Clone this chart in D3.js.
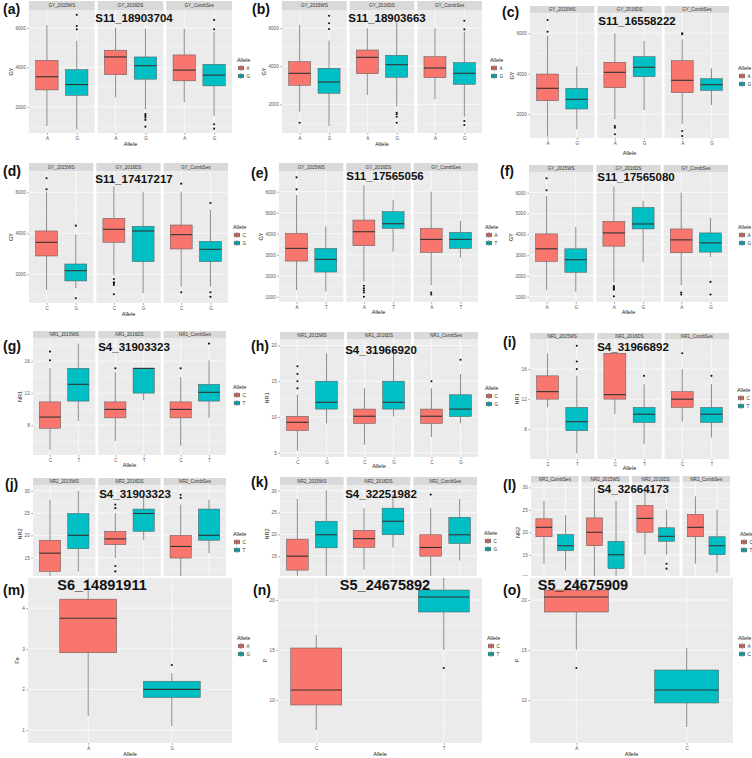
<!DOCTYPE html>
<html><head><meta charset="utf-8">
<script src="https://cdn.jsdelivr.net/npm/d3@7"></script>
<style>body{margin:0;background:#fff}svg{display:block}</style>
</head><body>
<script>
// ---------------- DATA ----------------
// stats per facet per allele: [lowerWhisker, Q1, median, Q3, upperWhisker]
const a_facets = ["GY_2015WS","GY_2016DS","GY_CombSes"];
const a_alleles = ["A","G"];
const a_stats = [
  [[1026,2855,3523,4359,6150],[856,2581,3128,3882,5350]],
  [[2477,3626,4530,4872,6015],[1880,3400,4085,4530,5965]],
  [[2221,3316,3863,4632,5965],[1538,3060,3607,4154,5812]]];
const a_out = [[[],[6667,6100,5930]],[[],[1625,1538,1450,1333,990]],[[],[6410,5930,1111,888]]];

const b_facets = ["GY_2015WS","GY_2016DS","GY_CombSes"];
const b_alleles = ["A","G"];
const b_stats = [
  [[1617,3000,3628,4236,6157],[869,2581,3173,3890,5335]],
  [[2492,3607,4464,4848,5982],[1880,3418,4079,4571,6300]],
  [[2267,3398,3906,4497,5982],[1356,3052,3628,4183,5806]]];
const b_out = [[[1042],[6644,6246,5948]],[[],[1565,1480,1356,1042]],[[],[6383,5930,1130,921]]];

const c_facets = ["GY_2015WS","GY_2016DS","GY_CombSes"];
const c_alleles = ["A","G"];
const c_stats = [
  [[870,2655,3270,3980,5880],[1236,2243,2724,3270,4343]],
  [[1732,3300,4064,4560,6000],[2194,3846,4313,4840,5618]],
  [[1500,3052,3668,4640,5700],[2442,3168,3450,3747,4263]]];
const c_out = [[[6660,6080],[]],[[1400,1315,987],[]],[[6000,5950,1152,900],[]]];

const d_facets = ["GY_2015WS","GY_2016DS","GY_CombSes"];
const d_alleles = ["C","G"];
const d_stats = [
  [[1234,2894,3561,4114,6030],[1317,1675,2179,2504,3950]],
  [[1950,3561,4195,4732,6300],[1088,2618,4114,4341,6030]],
  [[1400,3235,3935,4406,6030],[1400,2618,3219,3610,5154]]];
const d_out = [[[6683,6146],[4374,830]],[[1772,1610,1561,1480,1024],[]],[[6423,1122],[5480,1122,900]]];

const e_facets = ["GY_2015WS","GY_2016DS","GY_CombSes"];
const e_alleles = ["A","T"];
const e_stats = [
  [[1317,2698,3302,4016,5841],[1250,2175,2778,3302,4349]],
  [[1714,3429,4095,4651,6300],[3143,4254,4476,5048,5603]],
  [[1550,3111,3730,4254,6000],[2857,3302,3730,4063,4603]]];
const e_out = [[[6683,6111],[]],[[1524,1397,1300,1200,1000],[]],[[1200,1111],[]]];

const f_facets = ["GY_2015WS","GY_2016DS","GY_CombSes"];
const f_alleles = ["A","G"];
const f_stats = [
  [[1317,2698,3302,4016,5841],[1250,2175,2778,3302,4349]],
  [[1714,3429,4063,4619,6300],[2667,4254,4492,5286,5603]],
  [[1556,3111,3730,4254,6000],[2905,3143,3587,4063,4794]]];
const f_out = [[[6683,6111],[]],[[1520,1460,1400,1340,1020],[]],[[1200,1111],[1714,1111]]];

const g_facets = ["NR1_2015WS","NR1_2016DS","NR1_CombSes"];
const g_alleles = ["C","T"];
const g_stats = [
  [[4.9,7.6,9.0,10.9,15.1],[8.5,11.0,13.1,15.1,18.2]],
  [[6.0,8.9,9.96,10.9,14.6],[11.1,12.0,15.1,15.1,15.1]],
  [[5.4,8.9,9.96,10.9,14.0],[8.9,11.0,12.1,13.1,16.1]]];
const g_out = [[[17.2,16.1],[]],[[15.1],[]],[[15.1],[18.2]]];

const h_facets = ["NR1_2015WS","NR1_2016DS","NR1_CombSes"];
const h_alleles = ["C","G"];
const h_stats = [
  [[5.3,8.1,9.25,10.1,13.1],[9.1,11.1,12.05,15.0,18.9]],
  [[6.1,9.1,10.1,11.1,14.0],[10.05,11.1,12.05,15.0,19.6]],
  [[7.2,9.1,10.1,11.1,14.0],[9.1,10.05,11.1,13.1,16.0]]];
const h_out = [[[17.1,16.0,15.0,14.0],[]],[[],[]],[[15.0],[18.0]]];

const i_facets = ["NR1_2015WS","NR1_2016DS","NR1_CombSes"];
const i_alleles = ["C","T"];
const i_stats = [
  [[10.9,12.0,13.0,15.1,18.1],[4.8,7.8,9.0,10.9,15.1]],
  [[10.0,12.0,12.6,18.1,18.2],[6.0,8.9,10.0,10.9,14.0]],
  [[9.0,10.9,12.0,13.0,16.0],[6.9,8.9,10.0,10.9,14.0]]];
const i_out = [[[],[19.1,17.0,16.0]],[[],[15.1]],[[18.1],[15.1]]];

const j_facets = ["NR2_2015WS","NR2_2016DS","NR2_CombSes"];
const j_alleles = ["C","T"];
const j_stats = [
  [[10.4,11.9,16.0,18.9,28.0],[11.9,17.0,20.0,24.9,30.0]],
  [[14.9,17.9,19.2,20.9,25.0],[19.0,20.9,24.9,25.9,29.1]],
  [[10.5,14.9,17.5,20.0,26.9],[16.0,18.9,20.0,25.9,28.0]]];
const j_out = [[[],[]],[[26.9,26.1,13.1,11.9],[]],[[29.1,28.4],[]]];

const k_facets = ["NR2_2015WS","NR2_2016DS","NR2_CombSes"];
const k_alleles = ["C","G"];
const k_stats = [
  [[10.0,11.8,15.0,18.9,28.1],[10.0,16.9,19.9,23.0,30.1]],
  [[11.9,17.0,19.0,20.9,26.0],[17.0,19.9,23.0,26.0,29.1]],
  [[10.0,15.0,17.0,19.9,26.0],[14.0,17.9,19.9,23.9,28.1]]];
const k_out = [[[],[]],[[],[]],[[29.1],[]]];

const l_facets = ["NR1_CombSes","NR2_2015WS","NR2_2016DS","NR2_CombSes"];
const l_alleles = ["C","T"];
const l_stats = [
  [[13.0,19.0,21.1,23.0,27.0],[11.5,15.9,17.0,19.5,23.8]],
  [[10.0,17.0,20.0,23.2,30.0],[10.0,11.9,15.0,18.0,27.0]],
  [[15.0,20.0,23.1,26.0,30.0],[15.0,18.0,19.1,21.0,25.0]],
  [[13.0,19.0,21.1,24.0,28.0],[11.0,15.0,17.0,19.0,25.0]]];
const l_out = [[[],[10.0]],[[],[]],[[],[13.0,11.9]],[[],[]]];

const m_facets = [null];
const m_alleles = ["A","G"];
const m_stats = [[[1.35,2.9,3.75,4.22,4.74],[1.1,1.8,2.0,2.2,2.4]]];
const m_out = [[[],[2.6]]];

const n_facets = [null];
const n_alleles = ["C","T"];
const n_stats = [[[7.0,9.5,11.0,15.2,16.5],[15.0,18.8,20.3,21.0,22.2]]];
const n_out = [[[],[13.2]]];

const o_facets = [null];
const o_alleles = ["A","C"];
const o_stats = [[[15.0,18.8,20.3,21.0,22.2],[7.3,9.7,11.0,13.0,15.2]]];
const o_out = [[[13.2],[]]];

const gyTicks = [2000,4000,6000];
const gyTicks2 = [1000,2000,3000,4000,5000,6000];
const nr1TicksA = [8,12,16];
const nr1TicksB = [5,10,15,20];
const nr2Ticks = [10,15,20,25,30];
const feTicks = [1,2,3,4];
const pTicks = [10,15,20];

// ---------------- LAYOUT ----------------
const FONT = "'Liberation Sans', Arial, sans-serif";
const COLORS = ["#F8766D","#00BFC4"];
const W = 752, H = 758;
const svg = d3.select("body").append("svg").attr("width", W).attr("height", H)
  .style("font-family", FONT);

const panels = [
  {lab:"(a)", labX:3, labY:14, title:"S11_18903704", tX:134, tY:22, left:29, right:232, sTop:1, top:10, bottom:133, dom:[667,6914], ticks:gyTicks, yl:"GY", xtY:139, alY:146, legX:237, legY:62, facets:a_facets, alleles:a_alleles, stats:a_stats, out:a_out},
  {lab:"(b)", labX:252, labY:14, title:"S11_18903663", tX:387, tY:22, left:282, right:482, sTop:1, top:10, bottom:133, dom:[502,6942], ticks:gyTicks, yl:"GY", xtY:139, alY:146, legX:490, legY:62, facets:b_facets, alleles:b_alleles, stats:b_stats, out:b_out},
  {lab:"(c)", labX:502, labY:17, title:"S11_16558222", tX:637, tY:25, left:530, right:729, sTop:6, top:13, bottom:138, dom:[804,7007], ticks:gyTicks, yl:"GY", xtY:146, alY:155, legX:738, legY:70, facets:c_facets, alleles:c_alleles, stats:c_stats, out:c_out},
  {lab:"(d)", labX:3, labY:176, title:"S11_17417217", tX:134, tY:183, left:29, right:228, sTop:163, top:171, bottom:303, dom:[600,7040], ticks:gyTicks, yl:"GY", xtY:310, alY:316, legX:233, legY:229, facets:d_facets, alleles:d_alleles, stats:d_stats, out:d_out},
  {lab:"(e)", labX:251, labY:178, title:"S11_17565056", tX:385, tY:180, left:279, right:478, sTop:163, top:171, bottom:302, dom:[750,6985], ticks:gyTicks2, yl:"GY", xtY:308, alY:314, legX:485, legY:229, facets:e_facets, alleles:e_alleles, stats:e_stats, out:e_out},
  {lab:"(f)", labX:500, labY:176, title:"S11_17565080", tX:636, tY:181, left:529, right:728, sTop:165, top:172, bottom:302, dom:[750,6985], ticks:gyTicks2, yl:"GY", xtY:308, alY:314, legX:738, legY:229, facets:f_facets, alleles:f_alleles, stats:f_stats, out:f_out},
  {lab:"(g)", labX:3, labY:351, title:"S4_31903323", tX:134, tY:351, left:33, right:226, sTop:331, top:338, bottom:455, dom:[4.25,18.9], ticks:nr1TicksA, yl:"NR1", xtY:461, alY:467, legX:233, legY:389, facets:g_facets, alleles:g_alleles, stats:g_stats, out:g_out},
  {lab:"(h)", labX:251, labY:351, title:"S4_31966920", tX:381, tY:354, left:280, right:478, sTop:332, top:339, bottom:457, dom:[4.4,20.9], ticks:nr1TicksB, yl:"NR1", xtY:462, alY:468, legX:485, legY:390, facets:h_facets, alleles:h_alleles, stats:h_stats, out:h_out},
  {lab:"(i)", labX:503, labY:347, title:"S4_31966892", tX:633, tY:351, left:530, right:729, sTop:333, top:339, bottom:459, dom:[4.04,20.0], ticks:nr1TicksA, yl:"NR1", xtY:464, alY:470, legX:737, legY:392, facets:i_facets, alleles:i_alleles, stats:i_stats, out:i_out},
  {lab:"(j)", labX:5, labY:489, title:"S4_31903323", tX:135, tY:498, left:33, right:226, sTop:478, top:485, bottom:583, dom:[9.3,31.3], ticks:nr2Ticks, yl:"NR2", noX:true, legX:233, legY:536, facets:j_facets, alleles:j_alleles, stats:j_stats, out:j_out},
  {lab:"(k)", labX:251, labY:487, title:"S4_32251982", tX:381, tY:498, left:280, right:477, sTop:477, top:485, bottom:583, dom:[8.85,31.3], ticks:nr2Ticks, yl:"NR2", noX:true, legX:484, legY:535, facets:k_facets, alleles:k_alleles, stats:k_stats, out:k_out},
  {lab:"(l)", labX:503, labY:490, title:"S4_32664173", tX:633, tY:493, left:531, right:730, sTop:476, top:482, bottom:583, dom:[8.7,31.2], ticks:nr2Ticks, yl:"NR2", noX:true, legX:740, legY:536, facets:l_facets, alleles:l_alleles, stats:l_stats, out:l_out},
  {cover:true, lab:"(m)", labX:3, labY:595, title:"S6_14891911", tX:102, tY:590, tSize:14.5, left:28, right:232, sTop:578, top:578, bottom:743, dom:[0.68,4.74], ticks:feTicks, yl:"Fe", xtY:749, alY:756, legX:237, legY:640, pad:0.72, bwf:0.68, facets:m_facets, alleles:m_alleles, stats:m_stats, out:m_out},
  {lab:"(n)", labX:253, labY:595, title:"S5_24675892", tX:385, tY:590, tSize:14.5, left:278, right:482, sTop:578, top:578, bottom:743, dom:[5.7,22.2], ticks:pTicks, yl:"P", xtY:749, alY:756, legX:487, legY:640, pad:0.3, bwf:0.4, facets:n_facets, alleles:n_alleles, stats:n_stats, out:n_out},
  {lab:"(o)", labX:503, labY:595, title:"S5_24675909", tX:583, tY:590, tSize:14.5, left:530, right:733, sTop:578, top:578, bottom:743, dom:[5.7,22.2], ticks:pTicks, yl:"P", xtY:749, alY:756, legX:738, legY:640, pad:0.42, bwf:0.58, facets:o_facets, alleles:o_alleles, stats:o_stats, out:o_out}
];

function drawPanel(L) {
  if (L.cover) {
    svg.append("rect").attr("x", 0).attr("y", 576).attr("width", W).attr("height", H - 576).attr("fill", "#fff");
  }
  const g = svg.append("g");
  const n = L.stats.length;
  const gap = 3;
  const fw = (L.right - L.left - gap * (n - 1)) / n;
  const y = d3.scaleLinear().domain(L.dom).range([L.bottom, L.top]);
  const step = L.ticks[1] - L.ticks[0];
  const minor = [];
  for (let v = L.ticks[0] - step / 2; v <= L.dom[1]; v += step) {
    if (v >= L.dom[0]) minor.push(v);
  }
  const major = L.ticks.filter(v => v >= L.dom[0] && v <= L.dom[1]);

  for (let i = 0; i < n; i++) {
    const fx = L.left + i * (fw + gap);
    const x = d3.scalePoint().domain(L.alleles).range([fx, fx + fw]).padding(L.pad || 0.6);
    const bw = x.step() * (L.bwf || 0.75);
    const fg = g.append("g");
    fg.append("rect").attr("x", fx).attr("y", L.top).attr("width", fw)
      .attr("height", L.bottom - L.top).attr("fill", "#EBEBEB");
    fg.selectAll(".mn").data(minor).join("line")
      .attr("x1", fx).attr("x2", fx + fw).attr("y1", d => y(d)).attr("y2", d => y(d))
      .attr("stroke", "#fff").attr("stroke-width", 0.35);
    fg.selectAll(".mj").data(major).join("line")
      .attr("x1", fx).attr("x2", fx + fw).attr("y1", d => y(d)).attr("y2", d => y(d))
      .attr("stroke", "#fff").attr("stroke-width", 0.7);
    fg.selectAll(".vx").data(L.alleles).join("line")
      .attr("x1", d => x(d)).attr("x2", d => x(d)).attr("y1", L.top).attr("y2", L.bottom)
      .attr("stroke", "#fff").attr("stroke-width", 0.7);
    if (L.facets[i] !== null) {
      fg.append("rect").attr("x", fx).attr("y", L.sTop).attr("width", fw)
        .attr("height", L.top - L.sTop).attr("fill", "#D9D9D9");
      fg.append("text").attr("x", fx + fw / 2).attr("y", (L.sTop + L.top) / 2 + 1.6)
        .attr("text-anchor", "middle").attr("font-size", 4.6).attr("fill", "#333")
        .text(L.facets[i]);
    }
    L.alleles.forEach((a, k) => {
      const s = L.stats[i][k];
      const cx = x(a);
      const bg = fg.append("g");
      bg.append("line").attr("x1", cx).attr("x2", cx).attr("y1", y(s[0])).attr("y2", y(s[1]))
        .attr("stroke", "#444").attr("stroke-width", 0.6);
      bg.append("line").attr("x1", cx).attr("x2", cx).attr("y1", y(s[3])).attr("y2", y(s[4]))
        .attr("stroke", "#444").attr("stroke-width", 0.6);
      bg.append("rect").attr("x", cx - bw / 2).attr("width", bw)
        .attr("y", y(s[3])).attr("height", Math.max(0.5, y(s[1]) - y(s[3])))
        .attr("fill", COLORS[k]).attr("stroke", "#555").attr("stroke-width", 0.5);
      bg.append("line").attr("x1", cx - bw / 2).attr("x2", cx + bw / 2)
        .attr("y1", y(s[2])).attr("y2", y(s[2]))
        .attr("stroke", "#333").attr("stroke-width", 1.1);
      bg.selectAll("circle").data(L.out[i][k]).join("circle")
        .attr("cx", cx).attr("cy", d => y(d)).attr("r", 1.05).attr("fill", "#111");
    });
    if (!L.noX) {
      const xa = fg.append("g").attr("transform", `translate(0,${L.bottom})`)
        .call(d3.axisBottom(x).tickSize(1.8).tickPadding(1.5));
      xa.select(".domain").remove();
      xa.selectAll("line").attr("stroke", "#555").attr("stroke-width", 0.5);
      xa.selectAll("text").attr("font-size", 4.6).attr("fill", "#555").attr("font-family", FONT);
    }
  }
  const ya = g.append("g").attr("transform", `translate(${L.left},0)`)
    .call(d3.axisLeft(y).tickValues(major).tickFormat(d3.format("d")).tickSize(1.8).tickPadding(1.5));
  ya.select(".domain").remove();
  ya.selectAll("line").attr("stroke", "#555").attr("stroke-width", 0.5);
  ya.selectAll("text").attr("font-size", 4.6).attr("fill", "#555").attr("font-family", FONT);

  // axis titles
  const yw = d3.max(major, v => String(v).length) * 2.6 + 6;
  g.append("text").attr("transform", `translate(${L.left - yw},${(L.top + L.bottom) / 2}) rotate(-90)`)
    .attr("text-anchor", "middle").attr("font-size", 5.6).attr("fill", "#222").text(L.yl);
  if (!L.noX) {
    g.append("text").attr("x", (L.left + L.right) / 2).attr("y", L.alY)
      .attr("text-anchor", "middle").attr("font-size", 5.6).attr("fill", "#222").text("Allele");
  }

  // legend
  const lg = g.append("g").attr("transform", `translate(${L.legX},${L.legY})`);
  lg.append("text").attr("x", 0).attr("y", 0).attr("font-size", 5.4).attr("fill", "#222").text("Allele");
  L.alleles.forEach((a, k) => {
    const ky = 3 + k * 8;
    lg.append("rect").attr("x", 0.5).attr("y", ky).attr("width", 7).attr("height", 6)
      .attr("fill", "#F2F2F2");
    lg.append("line").attr("x1", 4).attr("x2", 4).attr("y1", ky).attr("y2", ky + 6)
      .attr("stroke", "#444").attr("stroke-width", 0.5);
    lg.append("rect").attr("x", 1.2).attr("y", ky + 1.2).attr("width", 5.6).attr("height", 3.6)
      .attr("fill", COLORS[k]).attr("stroke", "#555").attr("stroke-width", 0.4);
    lg.append("line").attr("x1", 1.2).attr("x2", 6.8).attr("y1", ky + 3).attr("y2", ky + 3)
      .attr("stroke", "#333").attr("stroke-width", 0.6);
    lg.append("text").attr("x", 9.5).attr("y", ky + 4.6).attr("font-size", 4.6).attr("fill", "#333").text(a);
  });

  // title and label
  g.append("text").attr("x", L.tX).attr("y", L.tY).attr("text-anchor", "middle")
    .attr("font-size", L.tSize || 11.5).attr("font-weight", "bold").attr("fill", "#111").text(L.title);
  g.append("text").attr("x", L.labX).attr("y", L.labY)
    .attr("font-size", 14).attr("font-weight", "bold").attr("fill", "#111").text(L.lab);
}

panels.forEach(drawPanel);
</script>
</body></html>
